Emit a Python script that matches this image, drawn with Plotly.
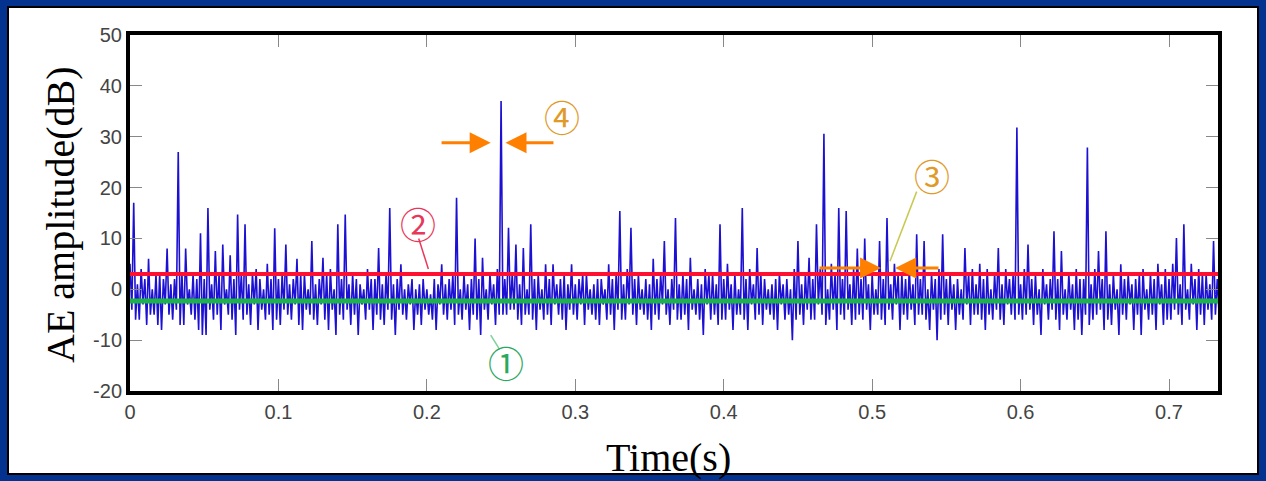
import plotly.graph_objects as go

# ---------------- data ----------------
# local maxima (at t = i*dt) and local minima (at t = i*dt + dt/2) of the AE waveform
extremum_interval_s = 0.0025
peak_db = [
    5, 17, 1, 4, 2, 6, 0, 3, 3, 2,
    8, 1, 2, 27, 3, 8, 0, 3, 2, 11,
    2, 16, 1, 7.5, 3, 8.8, 0, 6.7, 2, 14.7,
    3, 12.8, 1, 3, 4, 2, 0, 5, 2, 12,
    2, 3, 8.8, 1, 2, 6, 3, 3, 0, 9.5,
    1, 2, 6.2, 3, 4, 0, 12.8, 2, 14.7, 1,
    3, 2, 1, 0, 4, 2, 2, 8.1, 1, 3,
    16, 1, 2, 4.9, 0, 1, 2, 0, 1, 2,
    0, -1, 2, 1, 4.9, 1, 2, 3, 18, 0,
    3, 1, 2, 10, 2, 6.2, 0, 3, 1, 4,
    37, 2, 12.1, 3, 8.8, 1, 8.1, 0, 12.8, 2,
    3, 0, 4.9, 2, 4.9, 1, 2, 3, 1, 4.9,
    1, 2, 3, 3, 0, 1, 2, 2, 0, 4.9,
    2, 3, 15.4, 1, 4, 12.1, 2, 3, 0, 2,
    1, 6, 2, 3, 9.5, 0, 2, 14, 1, 3,
    2, 6.2, 0, 2, 1, 4, 3, 3, 1, 12.8,
    2, 5, 1, 3, 0, 16, 2, 4, 1, 8.1,
    3, 2, 0, 1, 2, 3, 1, 2, 0, 4,
    9.5, 1, 3, 6.2, 2, 12.8, 4, 30.6, 0, 5,
    3, 16, 2, 15.4, 1, 4, 8, 2, 10, 1,
    3, 0, 9.5, 2, 14, 1, 5, 3, 3, 2,
    4, 1, 10.8, 2, 9.5, 0, 3, 2, 4, 10.8,
    2, 3, 1, 2, 0, 8.1, 3, 4, 1, 5,
    2, 4, 0, 3, 8.1, 1, 4, 2, 3, 31.8,
    1, 4, 8.8, 2, 3, 0, 4, 1, 2, 11.4,
    2, 7.5, 0, 3, 1, 4, 2, 2, 27.9, 1,
    4, 7.5, 2, 11.4, 1, 3, 0, 4.9, 2, 3,
    1, 2, 3, 4, 0, 3, 2, 5, 1, 4,
    2, 5, 10.1, 1, 12.8, 0, 5, 2, 4, 3,
    3, 1, 9.5, 2,
]
trough_db = [
    -4, -6, -6, -3, -7, -5, -5, -7, -8, -3,
    -5, -6, -4, -7, -7, -3, -5, -6, -8, -9,
    -9, -4, -6, -5, -8, -3, -5, -6, -9, -4,
    -6, -5, -7, -3, -8, -4, -6, -5, -8, -6,
    -7, -4, -5, -6, -3, -7, -8, -4, -5, -6,
    -7, -3, -6, -8, -4, -9, -5, -6, -4, -7,
    -5, -9, -3, -6, -4, -8, -5, -6, -7, -4,
    -6, -9, -4, -5, -6, -3, -8, -5, -7, -4,
    -5, -6, -8, -3, -5, -6, -4, -7, -5, -6,
    -4, -8, -5, -6, -9, -4, -6, -3, -7, -5,
    -5, -5, -4, -4, -6, -7, -5, -5, -6, -8,
    -4, -6, -5, -7, -3, -5, -6, -8, -4, -5,
    -6, -3, -7, -4, -5, -6, -7, -3, -6, -5,
    -8, -4, -6, -6, -3, -5, -7, -4, -5, -6,
    -8, -5, -6, -3, -5, -7, -4, -6, -6, -5,
    -8, -4, -5, -6, -9, -3, -6, -5, -7, -6,
    -6, -4, -8, -5, -5, -6, -8, -3, -6, -5,
    -7, -4, -5, -6, -8, -3, -6, -5, -10, -6,
    -5, -7, -4, -6, -6, -3, -5, -7, -6, -4,
    -8, -5, -6, -4, -7, -6, -5, -6, -4, -8,
    -5, -5, -6, -7, -4, -6, -3, -8, -5, -6,
    -4, -7, -5, -5, -6, -8, -4, -10, -6, -5,
    -7, -4, -8, -5, -6, -3, -7, -5, -5, -6,
    -8, -5, -6, -4, -6, -7, -3, -5, -6, -5,
    -6, -5, -4, -7, -5, -9, -3, -6, -4, -6,
    -8, -5, -6, -4, -8, -6, -9, -5, -7, -6,
    -5, -4, -8, -6, -7, -4, -9, -5, -6, -3,
    -8, -5, -9, -4, -6, -5, -8, -3, -7, -6,
    -6, -4, -5, -7, -4, -6, -3, -8, -5, -7,
    -4, -6, -5, -5,
]

time_s, amp_db = [], []
for i, (p, q) in enumerate(zip(peak_db, trough_db)):
    time_s += [i * extremum_interval_s, (i + 0.5) * extremum_interval_s]
    amp_db += [p, q]

threshold_red_db = 3.0     # line (2)
threshold_green_db = -2.3  # line (1)

x_ticks = [0, 0.1, 0.2, 0.3, 0.4, 0.5, 0.6, 0.7]
x_tick_labels = ["0", "0.1", "0.2", "0.3", "0.4", "0.5", "0.6", "0.7"]
y_ticks = [-20, -10, 0, 10, 20, 30, 40, 50]
y_tick_labels = ["-20", "-10", "0", "10", "20", "30", "40", "50"]

# annotation markers: (label, time, amplitude, colour)
markers = [
    ("①", 0.2534, -14.2, "#2aa860"),
    ("②", 0.1940, 13.0, "#e8385a"),
    ("③", 0.5400, 22.4, "#e09a28"),
    ("④", 0.2912, 34.0, "#e09a28"),
]
# arrows: (tail_t, head_t, amplitude)
arrows = [
    (0.2089, 0.2430, 28.8),
    (0.2863, 0.2530, 28.8),
    (0.4635, 0.5060, 4.2),
    (0.5457, 0.5155, 4.2),
]
# leader lines: (t0, a0, t1, a1, colour)
leaders = [
    (0.1945, 10.0, 0.2010, 4.0, "#e8385a"),
    (0.2490, -11.8, 0.2430, -9.0, "#7fd09a"),
    (0.5300, 19.2, 0.5120, 5.5, "#c8c850"),
]

X_RANGE = [0, 0.733]
Y_RANGE = [-20, 50]

# ---------------- figure ----------------
W, H = 1266, 481
L, R, T, B = 130, 48, 35, 90
FRAME_BLUE = "#04328f"

fig = go.Figure()
fig.add_trace(go.Scatter(
    x=time_s, y=amp_db, mode="lines",
    line=dict(color="#1c10d2", width=1.6),
    hoverinfo="skip", showlegend=False,
))
fig.add_trace(go.Scatter(
    x=X_RANGE, y=[threshold_red_db] * 2, mode="lines",
    line=dict(color="#ff1030", width=4), showlegend=False,
))
fig.add_trace(go.Scatter(
    x=X_RANGE, y=[threshold_green_db] * 2, mode="lines",
    line=dict(color="#1db34a", width=5), showlegend=False,
))

def px_to_paper(px, py):
    return (px - L) / (W - L - R), (H - B - py) / (H - T - B)

annotations = []
for label, t, a, col in markers:
    annotations.append(dict(x=t, y=a, xref="x", yref="y", text=label,
                            showarrow=False, xanchor="center", yanchor="middle",
                            font=dict(family="Noto Sans CJK SC", size=36, color=col)))
for tail, head, a in arrows:
    annotations.append(dict(x=head, y=a, ax=tail, ay=a, xref="x", yref="y",
                            axref="x", ayref="y", text="", showarrow=True,
                            arrowhead=2, arrowsize=1.4, arrowwidth=3,
                            arrowcolor="#ff8000"))

yx, yy = px_to_paper(60, 215)
annotations.append(dict(x=yx, y=yy, xref="paper", yref="paper",
                        xanchor="center", yanchor="middle",
                        text="AE amplitude(dB)", textangle=-90, showarrow=False,
                        font=dict(family="Liberation Serif", size=40, color="black")))
tx, ty = px_to_paper(668, 457)
annotations.append(dict(x=tx, y=ty, xref="paper", yref="paper",
                        xanchor="center", yanchor="middle",
                        text="Time(s)", showarrow=False,
                        font=dict(family="Liberation Serif", size=40, color="black")))

shapes = []
x0, y0 = px_to_paper(8, 7)
x1, y1 = px_to_paper(1258, 474)
shapes.append(dict(type="rect", xref="paper", yref="paper",
                   x0=x0, y0=y1, x1=x1, y1=y0,
                   fillcolor="white", line=dict(color="black", width=2),
                   layer="below"))
for t0, a0, t1, a1, col in leaders:
    shapes.append(dict(type="line", xref="x", yref="y", x0=t0, y0=a0,
                       x1=t1, y1=a1, line=dict(color=col, width=1.5)))

axis_common = dict(
    showgrid=False, zeroline=False, showline=True, linecolor="black",
    linewidth=4, mirror="allticks", ticks="inside", ticklen=12,
    tickwidth=1, tickcolor="#888888",
    tickfont=dict(family="Liberation Sans", size=20, color="#444444"),
)

fig.update_layout(
    width=W, height=H,
    margin=dict(l=L, r=R, t=T, b=B),
    paper_bgcolor=FRAME_BLUE,
    plot_bgcolor="white",
    xaxis=dict(range=X_RANGE, tickvals=x_ticks, ticktext=x_tick_labels, **axis_common),
    yaxis=dict(range=Y_RANGE, tickvals=y_ticks, ticktext=y_tick_labels, **axis_common),
    annotations=annotations,
    shapes=shapes,
)

fig.write_html(
    "out.html",
    config={"displayModeBar": False},
    post_script="document.body.style.margin='0';document.body.style.background='%s';" % FRAME_BLUE,
)
